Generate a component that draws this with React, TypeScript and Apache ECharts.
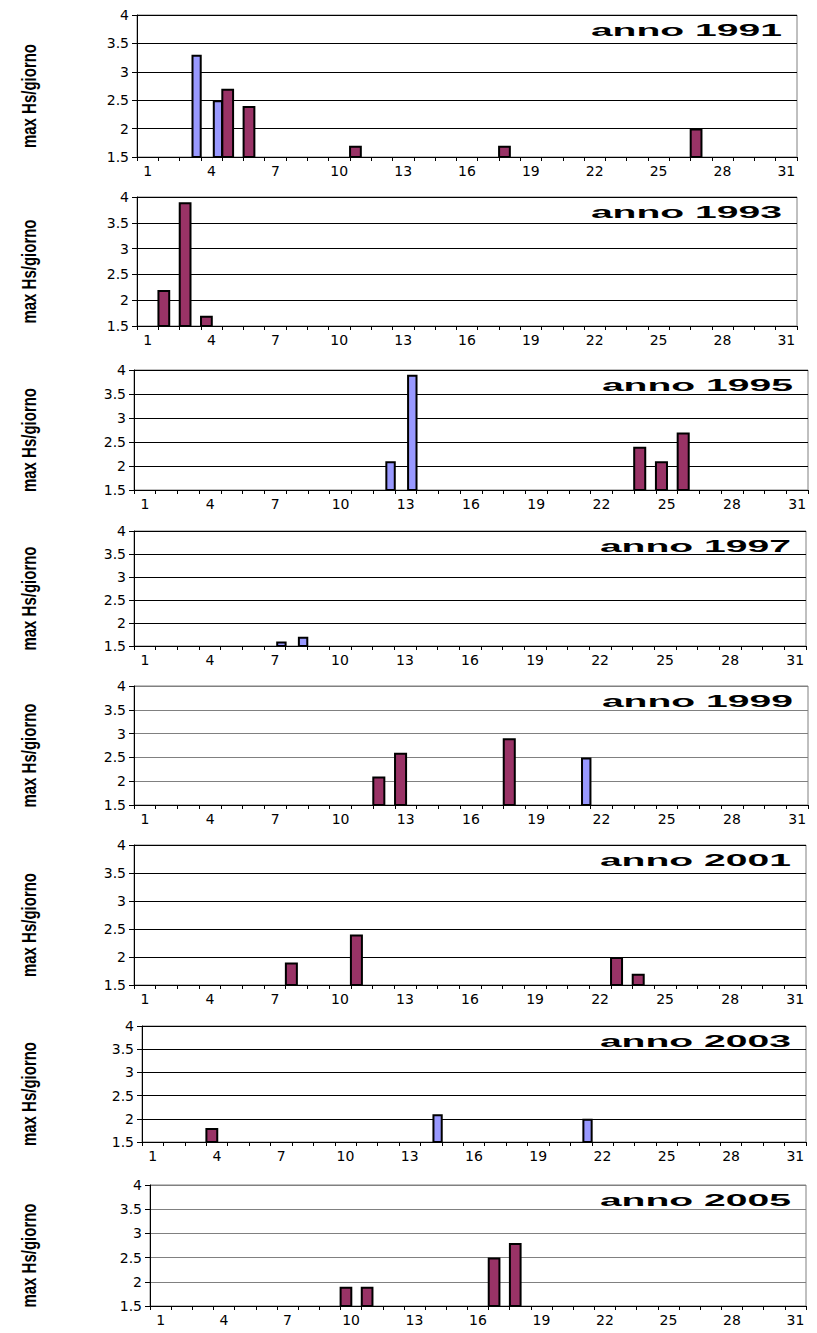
import React, { useEffect, useRef } from "react";
import * as echarts from "echarts";

// Categories (days of month)
const days = ["1","2","3","4","5","6","7","8","9","10","11","12","13","14","15","16","17","18","19","20","21","22","23","24","25","26","27","28","29","30","31"];

const years = ["1991", "1993", "1995", "1997", "1999", "2001", "2003", "2005"];

// [day, max Hs] pairs, maroon series
const maroon1991 = [[5, 2.7], [6, 2.4], [11, 1.7], [18, 1.7], [27, 2.0]];
const maroon1993 = [[2, 2.2], [3, 3.9], [4, 1.7]];
const maroon1995 = [[24, 2.4], [25, 2.1], [26, 2.7]];
const maroon1997: number[][] = [];
const maroon1999 = [[12, 2.1], [13, 2.6], [18, 2.9]];
const maroon2001 = [[8, 1.9], [11, 2.4], [23, 2.0], [24, 1.7]];
const maroon2003 = [[4, 1.8]];
const maroon2005 = [[10, 1.9], [11, 1.9], [17, 2.5], [18, 2.8]];

// [day, max Hs] pairs, blue series
const blue1991 = [[3, 3.3], [4, 2.5]];
const blue1993: number[][] = [];
const blue1995 = [[12, 2.1], [13, 3.9]];
const blue1997 = [[7, 1.6], [8, 1.7]];
const blue1999 = [[21, 2.5]];
const blue2001: number[][] = [];
const blue2003 = [[14, 2.1], [21, 2.0]];
const blue2005: number[][] = [];

const maroonData = [maroon1991, maroon1993, maroon1995, maroon1997, maroon1999, maroon2001, maroon2003, maroon2005];
const blueData = [blue1991, blue1993, blue1995, blue1997, blue1999, blue2001, blue2003, blue2005];

const yMin = 1.5;
const yMax = 4;
const yStep = 0.5;

// panel layout: [left, top, right, bottom]
const panels = [
  [137, 15, 797, 157],
  [137, 197, 797, 326],
  [134, 370, 808, 490],
  [134, 531, 806, 646],
  [134, 686, 808, 805],
  [134, 845, 806, 985],
  [142, 1026, 806, 1142],
  [150, 1185, 806, 1306],
];
const grayGrid = [false, false, false, false, true, false, false, true];

function fill(pairs: number[][]) {
  const arr: (number | null)[] = days.map(() => null);
  pairs.forEach(([d, v]) => {
    arr[d - 1] = v;
  });
  return arr;
}

export default function App() {
  const ref = useRef<HTMLDivElement>(null);
  useEffect(() => {
    if (!ref.current) return;
    const chart = echarts.init(ref.current, undefined, { renderer: "svg" });
    const grid: any[] = [];
    const xAxis: any[] = [];
    const yAxis: any[] = [];
    const series: any[] = [];
    const graphic: any[] = [];
    panels.forEach(([l, t, r, b], i) => {
      grid.push({
        left: l,
        top: t,
        width: r - l,
        height: b - t,
        show: true,
        borderColor: "#808080",
        borderWidth: 1,
        backgroundColor: "#ffffff",
      });
      xAxis.push({
        type: "category",
        gridIndex: i,
        data: days,
        boundaryGap: true,
        axisLine: { lineStyle: { color: "#000", width: 1 } },
        axisTick: { show: true, interval: 0, length: 4, lineStyle: { color: "#000" } },
        axisLabel: {
          interval: 2,
          color: "#000",
          fontFamily: "DejaVu Sans",
          fontSize: 14,
          margin: 7,
        },
        splitLine: { show: false },
      });
      yAxis.push({
        type: "value",
        gridIndex: i,
        min: yMin,
        max: yMax,
        interval: yStep,
        axisLine: { show: true, lineStyle: { color: "#000", width: 1 } },
        axisTick: { show: true, length: 5, lineStyle: { color: "#000" } },
        axisLabel: {
          color: "#000",
          fontFamily: "DejaVu Sans",
          fontSize: 14,
          margin: 8,
        },
        splitLine: {
          show: true,
          lineStyle: { color: grayGrid[i] ? "#808080" : "#000000", width: 1 },
        },
      });
      series.push({
        type: "bar",
        name: "maroon",
        xAxisIndex: i,
        yAxisIndex: i,
        data: fill(maroonData[i]),
        barWidth: "60%",
        barGap: "0%",
        clip: true,
        itemStyle: { color: "#993366", borderColor: "#000", borderWidth: 2 },
      });
      series.push({
        type: "bar",
        name: "blue",
        xAxisIndex: i,
        yAxisIndex: i,
        data: fill(blueData[i]),
        barWidth: "48%",
        barGap: "0%",
        clip: true,
        itemStyle: { color: "#9999FF", borderColor: "#000", borderWidth: 2 },
      });
      graphic.push({
        type: "text",
        x: r - 15,
        y: t + 15,
        scaleX: 2.3,
        style: {
          text: "anno " + years[i],
          font: 'bold 17px "Liberation Sans"',
          fill: "#000",
          textAlign: "right",
          textVerticalAlign: "middle",
        },
        z: 100,
      });
      graphic.push({
        type: "text",
        x: 29,
        y: (t + b) / 2 + 10,
        rotation: Math.PI / 2,
        scaleY: 1.35,
        style: {
          text: "max Hs/giorno",
          font: 'bold 15px "Liberation Sans"',
          fill: "#000",
          textAlign: "center",
          textVerticalAlign: "middle",
        },
      });
    });
    chart.setOption({
      animation: false,
      backgroundColor: "#ffffff",
      grid,
      xAxis,
      yAxis,
      series,
      graphic,
    });
    return () => chart.dispose();
  }, []);
  return (
    <div
      ref={ref}
      style={{ position: "absolute", left: 0, top: 0, width: 817, height: 1333 }}
    />
  );
}
